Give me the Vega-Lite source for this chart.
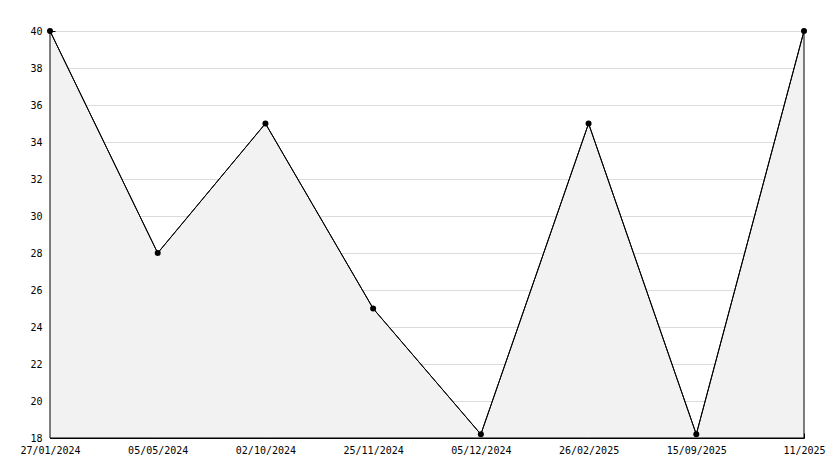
{
  "$schema": "https://vega.github.io/schema/vega-lite/v6.json",
  "width": 754,
  "height": 407,
  "autosize": {"type": "none"},
  "padding": {"left": 50, "top": 31, "right": 30, "bottom": 30},
  "background": "white",
  "config": {
    "view": {"stroke": null},
    "font": "DejaVu Sans Mono",
    "axis": {"labelFont": "DejaVu Sans Mono", "labelFontSize": 10, "labelColor": "black", "domainColor": "black", "tickColor": "black"}
  },
  "data": {
    "values": [
      {"date": "27/01/2024", "value": 40},
      {"date": "05/05/2024", "value": 28},
      {"date": "02/10/2024", "value": 35},
      {"date": "25/11/2024", "value": 25},
      {"date": "05/12/2024", "value": 18.2},
      {"date": "26/02/2025", "value": 35},
      {"date": "15/09/2025", "value": 18.2},
      {"date": "11/2025", "value": 40}
    ]
  },
  "encoding": {
    "x": {
      "field": "date", "type": "ordinal", "sort": null,
      "scale": {"type": "point", "padding": 0},
      "axis": {"title": null, "labelAngle": 0, "tickSize": -5, "labelPadding": 12, "grid": false, "domainWidth": 1, "labelOverlap": false}
    },
    "y": {
      "field": "value", "type": "quantitative",
      "scale": {"domain": [18, 40], "nice": false, "zero": false},
      "axis": {
        "title": null,
        "values": [18,19,20,21,22,23,24,25,26,27,28,29,30,31,32,33,34,35,36,37,38,39,40],
        "labelExpr": "datum.value % 2 === 0 ? datum.label : ''",
        "tickSize": {"condition": {"test": "datum.value % 2 === 0", "value": -5}, "value": -4},
        "labelPadding": 13,
        "grid": true,
        "gridColor": "#dcdcdc",
        "gridOpacity": {"condition": {"test": "datum.value % 2 === 0", "value": 1}, "value": 0},
        "labelBaseline": "middle"
      }
    }
  },
  "layer": [
    {"mark": {"type": "area", "fill": "#f2f2f2", "stroke": "black", "strokeWidth": 1, "opacity": 1}, "encoding": {"y2": {"datum": 18}}},
    {"mark": {"type": "line", "color": "black", "strokeWidth": 1}},
    {"mark": {"type": "point", "shape": "circle", "filled": true, "color": "black", "size": 36, "opacity": 1}}
  ]
}
